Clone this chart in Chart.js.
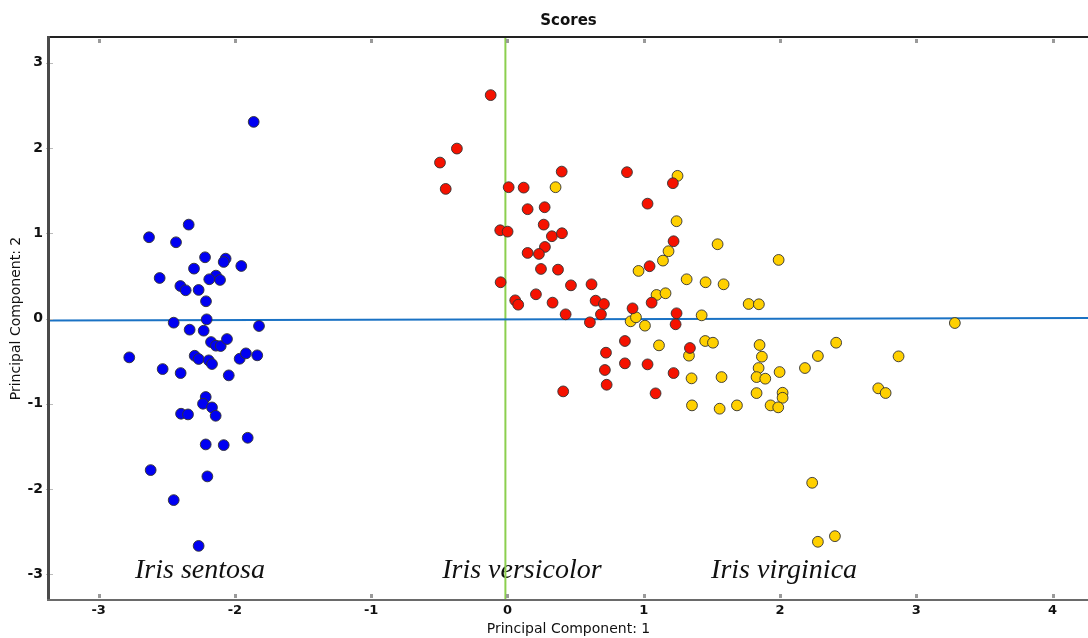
<!DOCTYPE html>
<html>
<head>
<meta charset="utf-8">
<script src="https://cdn.jsdelivr.net/npm/chart.js@4.4.1/dist/chart.umd.min.js"></script>
<style>
  html, body { margin: 0; padding: 0; background: #ffffff; }
  #wrap { width: 1088px; height: 638px; }
  canvas { display: block; }
</style>
</head>
<body>
<div id="wrap"><canvas id="scores" width="1088" height="638"></canvas></div>
<script>
// PCA scores of the iris measurements, first two principal components
const setosaPC1 = [-1.862, -2.339, -2.630, -2.432, -2.219, -2.300, -2.068, -2.082, -1.953, -2.552,
  -2.139, -2.188, -2.109, -2.400, -2.361, -2.266, -2.212, -2.449, -2.207, -1.823,
  -2.332, -2.229, -2.175, -2.139, -2.104, -2.058, -2.775, -2.295, -2.266, -2.192,
  -2.168, -1.965, -1.919, -1.836, -2.530, -2.398, -2.045, -2.214, -2.234, -2.168,
  -2.141, -2.395, -2.344, -1.906, -2.214, -2.082, -2.618, -2.202, -2.449, -2.266];
const setosaPC2 = [2.306, 1.101, 0.953, 0.894, 0.718, 0.585, 0.702, 0.663, 0.616, 0.475,
  0.503, 0.460, 0.452, 0.381, 0.331, 0.335, 0.202, -0.049, -0.010, -0.088,
  -0.131, -0.143, -0.276, -0.319, -0.323, -0.241, -0.456, -0.437, -0.475, -0.491,
  -0.534, -0.472, -0.409, -0.432, -0.593, -0.640, -0.667, -0.921, -1.000, -1.043,
  -1.141, -1.117, -1.125, -1.399, -1.477, -1.485, -1.778, -1.852, -2.130, -2.667];

const versicolorPC1 = [-0.123, -0.371, -0.495, -0.453, 0.009, 0.119, 0.398, 0.877, 1.214, 1.028,
  0.148, 0.273, 0.266, -0.053, 0.001, 0.326, 0.400, 0.275, 0.148, 0.231,
  1.219, 1.043, 0.246, 0.371, -0.050, 0.466, 0.617, 0.209, 0.057, 0.079,
  0.331, 0.647, 0.708, 1.058, 0.918, 0.427, 0.686, 1.241, 0.605, 1.234,
  0.862, 0.723, 1.339, 0.715, 0.862, 1.028, 1.219, 0.728, 0.409, 1.087];
const versicolorPC2 = [2.620, 1.993, 1.829, 1.520, 1.540, 1.535, 1.723, 1.716, 1.587, 1.347,
  1.282, 1.305, 1.101, 1.035, 1.019, 0.965, 1.000, 0.839, 0.769, 0.757,
  0.906, 0.613, 0.581, 0.573, 0.425, 0.389, 0.401, 0.284, 0.213, 0.162,
  0.186, 0.209, 0.170, 0.186, 0.119, 0.049, 0.049, 0.061, -0.045, -0.068,
  -0.264, -0.401, -0.346, -0.604, -0.526, -0.538, -0.640, -0.777, -0.855, -0.878];

const virginicaPC1 = [0.353, 1.248, 1.241, 1.542, 1.182, 1.141, 0.962, 1.315, 1.454, 1.094,
  1.160, 1.425, 0.904, 0.943, 1.009, 1.990, 1.586, 1.770, 1.845, 1.112,
  1.332, 1.451, 1.508, 1.850, 1.867, 2.412, 1.351, 1.571, 1.843, 1.828,
  1.892, 1.997, 2.183, 2.278, 1.828, 2.019, 2.019, 1.354, 1.557, 1.684,
  1.931, 1.987, 2.870, 2.721, 2.775, 3.283, 2.236, 2.403, 2.278];
const virginicaPC2 = [1.540, 1.673, 1.141, 0.871, 0.789, 0.679, 0.558, 0.460, 0.425, 0.276,
  0.296, 0.037, -0.033, 0.014, -0.084, 0.687, 0.401, 0.170, 0.167, -0.315,
  -0.436, -0.264, -0.284, -0.311, -0.448, -0.284, -0.702, -0.687, -0.581, -0.687,
  -0.706, -0.628, -0.581, -0.440, -0.875, -0.871, -0.930, -1.019, -1.058, -1.019,
  -1.019, -1.042, -0.444, -0.819, -0.874, -0.053, -1.927, -2.553, -2.619];

// Reference lines through the origin and species labels
const hLineX = [-3.37, 4.27];
const hLineY = [-0.024, 0.006];
const vLineX = [-0.015, -0.015];
const vLineY = [-3.3, 3.3];
const speciesNames = ['Iris sentosa', 'Iris versicolor', 'Iris virginica'];
const speciesLabelX = [-2.256, 0.106, 2.03];
const speciesLabelY = [-2.96, -2.96, -2.96];

const xTickValues = [-3, -2, -1, 0, 1, 2, 3, 4];
const yTickValues = [-3, -2, -1, 0, 1, 2, 3];

function toPoints(xs, ys) { return xs.map((x, i) => ({ x: x, y: ys[i] })); }

function scatterSet(label, xs, ys, fill) {
  return {
    type: 'scatter', label: label, data: toPoints(xs, ys),
    backgroundColor: fill, borderColor: 'rgba(50,50,50,0.9)', borderWidth: 1,
    pointRadius: 5.4, pointHoverRadius: 5.4, order: 1
  };
}
function lineSet(label, xs, ys, color) {
  return {
    type: 'line', label: label, data: toPoints(xs, ys),
    borderColor: color, borderWidth: 2, pointRadius: 0, fill: false, order: 2
  };
}

// Frame, inner tick marks and italic species names
const decorations = {
  id: 'decorations',
  beforeDatasetsDraw(chart) {
    const { ctx, scales } = chart;
    ctx.save();
    ctx.font = 'italic 28px "Liberation Serif", "DejaVu Serif", serif';
    ctx.fillStyle = '#111';
    ctx.textAlign = 'center';
    ctx.textBaseline = 'middle';
    speciesNames.forEach((name, i) => {
      ctx.fillText(name, scales.x.getPixelForValue(speciesLabelX[i]),
                   scales.y.getPixelForValue(speciesLabelY[i]));
    });
    ctx.restore();
  },
  afterDraw(chart) {
    const { ctx, chartArea: a, scales } = chart;
    ctx.save();
    // tick marks on the inside of top and bottom edges
    ctx.fillStyle = '#9a9a9a';
    xTickValues.forEach(v => {
      const px = Math.round(scales.x.getPixelForValue(v));
      ctx.fillRect(px - 1, a.top + 1, 3, 4);
      ctx.fillRect(px - 1, a.bottom - 5, 3, 4);
    });
    ctx.fillStyle = '#bbbbbb';
    yTickValues.forEach(v => {
      const py = Math.round(scales.y.getPixelForValue(v));
      ctx.fillRect(a.left - 3, py, 7, 1);
    });
    // borders
    ctx.fillStyle = '#222';
    ctx.fillRect(a.left - 2, a.top - 2, a.right - a.left + 2, 2);
    ctx.fillStyle = '#4a4a4a';
    ctx.fillRect(a.left - 2, a.top - 2, 3, a.bottom - a.top + 4);
    ctx.fillStyle = '#6a6a6a';
    ctx.fillRect(a.left - 2, a.bottom, a.right - a.left + 2, 2);
    ctx.restore();
  }
};

new Chart(document.getElementById('scores'), {
  data: {
    datasets: [
      lineSet('PC1 axis', hLineX, hLineY, '#1a72c4'),
      lineSet('PC2 axis', vLineX, vLineY, '#8ccf4f'),
      scatterSet('Iris setosa', setosaPC1, setosaPC2, '#0000f2'),
      scatterSet('Iris versicolor', versicolorPC1, versicolorPC2, '#f51200'),
      scatterSet('Iris virginica', virginicaPC1, virginicaPC2, '#ffd000')
    ]
  },
  options: {
    responsive: false,
    animation: false,
    layout: { padding: 0, autoPadding: false },
    plugins: {
      legend: { display: false },
      tooltip: { enabled: false },
      title: {
        display: true, text: 'Scores', color: '#111', align: 'center', fullSize: false,
        font: { family: '"DejaVu Sans", Verdana, sans-serif', size: 15, weight: 'bold' },
        padding: { top: 12, bottom: 8 }
      }
    },
    scales: {
      x: {
        type: 'linear', min: -3.364, max: 4.26,
        afterBuildTicks: s => { s.ticks = xTickValues.map(v => ({ value: v })); },
        afterFit: s => { s.height = 39; s.paddingLeft = 0; s.paddingRight = 0; },
        grid: { display: false, drawTicks: false },
        border: { display: false },
        ticks: {
          padding: 4, color: '#111', maxRotation: 0, autoSkip: false,
          font: { family: '"DejaVu Sans", Verdana, sans-serif', size: 13, weight: 'bold' }
        },
        title: {
          display: true, text: 'Principal Component: 1', color: '#111',
          font: { family: '"DejaVu Sans", Verdana, sans-serif', size: 14 },
          padding: { top: 0, bottom: 0 }
        }
      },
      y: {
        type: 'linear', min: -3.29, max: 3.29,
        afterBuildTicks: s => { s.ticks = yTickValues.map(v => ({ value: v })); },
        afterFit: s => { s.width = 49; s.paddingTop = 0; s.paddingBottom = 0; },
        grid: { display: false, drawTicks: false },
        border: { display: false },
        ticks: {
          padding: 6, color: '#111', autoSkip: false,
          font: { family: '"DejaVu Sans", Verdana, sans-serif', size: 14, weight: 'bold' }
        },
        title: {
          display: true, text: 'Principal Component: 2', color: '#111',
          font: { family: '"DejaVu Sans", Verdana, sans-serif', size: 14 },
          padding: { top: 8, bottom: 0 }
        }
      }
    }
  },
  plugins: [decorations]
});
</script>
</body>
</html>
